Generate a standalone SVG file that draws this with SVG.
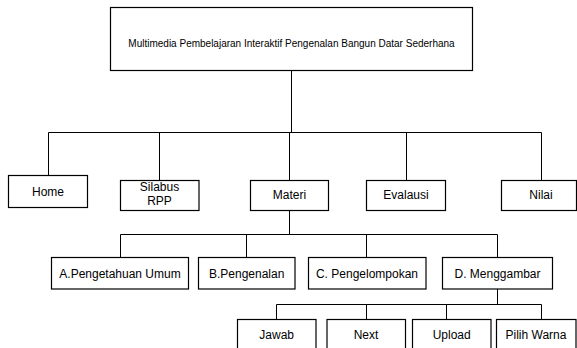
<svg xmlns="http://www.w3.org/2000/svg" width="577" height="348" viewBox="0 0 577 348">
<style>
.box{fill:#fff;stroke:#000;stroke-width:1.2}
.lbl{font-family:"Liberation Sans",Arial,sans-serif;font-size:12px;fill:#000;text-anchor:middle}
.ttl{font-size:10px}
#connectors path{fill:none;stroke:#000;stroke-width:1}
</style>
<rect width="577" height="348" fill="#fff"/>
<g id="connectors">
<path d="M291.5 70.5V132.5M48.5 132.5H541.5M48.5 132.5V175.5M159.5 132.5V180.5M289.5 132.5V180.5M406.5 132.5V180.5M541.5 132.5V180.5"/>
<path d="M289.5 210.5V234.5M120.5 234.5H497.5M120.5 234.5V257.5M246.5 234.5V257.5M366.5 234.5V257.5M497.5 234.5V257.5"/>
<path d="M497.5 289V304.5M276.5 304.5H541.5M276.5 304.5V319.5M366.5 304.5V319.5M446.5 304.5V319.5M541.5 304.5V319.5"/>
</g>
<g id="root"><rect class="box" x="110.5" y="7.5" width="362" height="63"/><text class="lbl ttl" x="291.5" y="47">Multimedia Pembelajaran Interaktif Pengenalan Bangun Datar Sederhana</text></g>
<g id="home"><rect class="box" x="8.5" y="175.5" width="79" height="32"/><text class="lbl" x="48" y="195.7">Home</text></g>
<g id="silabus"><rect class="box" x="120.5" y="180.5" width="78.5" height="30"/><text class="lbl" x="159.5" y="191">Silabus</text><text class="lbl" x="159.5" y="205">RPP</text></g>
<g id="materi"><rect class="box" x="250.5" y="180.5" width="78" height="30"/><text class="lbl" x="289.5" y="199.3">Materi</text></g>
<g id="evalausi"><rect class="box" x="366.5" y="180.5" width="79" height="30"/><text class="lbl" x="406" y="199.3">Evalausi</text></g>
<g id="nilai"><rect class="box" x="501.5" y="180.5" width="75" height="30"/><text class="lbl" x="541" y="199.3">Nilai</text></g>
<g id="a"><rect class="box" x="51.5" y="257.5" width="137" height="31.5"/><text class="lbl" x="120" y="277.6">A.Pengetahuan Umum</text></g>
<g id="b"><rect class="box" x="198.5" y="257.5" width="96.5" height="31.5"/><text class="lbl" x="246.7" y="277.6">B.Pengenalan</text></g>
<g id="c"><rect class="box" x="308.5" y="257.5" width="117.5" height="31.5"/><text class="lbl" x="367" y="277.6">C. Pengelompokan</text></g>
<g id="d"><rect class="box" x="442.5" y="257.5" width="110" height="31.5"/><text class="lbl" x="497.5" y="277.6">D. Menggambar</text></g>
<g id="jawab"><rect class="box" x="237.5" y="319.5" width="78.5" height="40"/><text class="lbl" x="276.7" y="338.6">Jawab</text></g>
<g id="next"><rect class="box" x="327" y="319.5" width="78.5" height="40"/><text class="lbl" x="366" y="338.6">Next</text></g>
<g id="upload"><rect class="box" x="412.5" y="319.5" width="78.5" height="40"/><text class="lbl" x="451.7" y="338.6">Upload</text></g>
<g id="pilih"><rect class="box" x="496.5" y="319.5" width="79.5" height="40"/><text class="lbl" x="536" y="338.6">Pilih Warna</text></g>
</svg>
